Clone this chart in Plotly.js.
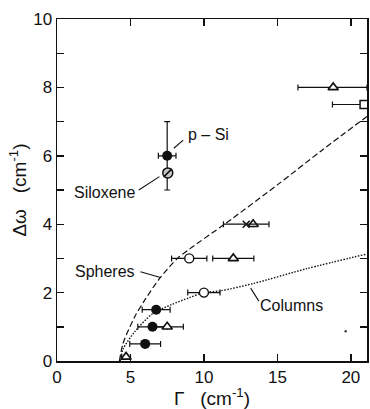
<!DOCTYPE html>
<html>
<head>
<meta charset="utf-8">
<script src="https://cdn.plot.ly/plotly-3.0.1.min.js"></script>
<style>
  html, body { margin: 0; padding: 0; background: #fff; }
  #chart { width: 370px; height: 409px; }
</style>
</head>
<body>
<div id="chart"></div>
<script>
// Raman shift Δω versus linewidth Γ for porous Si samples, with confinement models.

// Filled circles (p-Si and related samples)
const filledX = [7.5, 6.75, 6.5, 6.0];
const filledY = [6.0, 1.5, 1.0, 0.5];
const filledXErr = [0.6, 0.95, 1.0, 1.05];
const filledYErr = [1.0, 0, 0, 0];

// Siloxene (hatched circle)
const siloxeneX = [7.54];
const siloxeneY = [5.5];

// Open triangles
const triX = [18.8, 13.35, 12.0, 7.5, 4.7];
const triY = [8.0, 4.0, 3.0, 1.0, 0.12];
const triXErrPlus = [2.3, 0, 1.4, 1.1, 0.3];
const triXErrMinus = [2.4, 0, 1.4, 1.1, 0.3];

// Open circles
const ocX = [9.0, 10.0];
const ocY = [3.0, 2.0];
const ocXErr = [1.2, 1.1];

// Cross
const crossX = [12.88];
const crossY = [4.0];
const crossXErr = [1.55];

// Open square
const sqX = [20.9];
const sqY = [7.5];
const sqXErrMinus = [2.15];

// Small dot
const dotX = [19.65];
const dotY = [0.87];

// Model curves
const spheresX = [4.25, 4.5, 5.3, 6.0, 7.0, 8.2, 9.1, 11.5, 15.0, 18.0, 21.1];
const spheresY = [0.0, 0.52, 1.3, 1.8, 2.42, 3.0, 3.3, 4.03, 5.15, 6.15, 7.15];
const columnsX = [4.3, 4.5, 5.3, 6.5, 7.8, 9.0, 10.0, 11.1, 13.4, 17.0, 21.1];
const columnsY = [0.0, 0.35, 0.86, 1.38, 1.65, 1.85, 2.0, 2.05, 2.27, 2.7, 3.13];

// Axis ticks
const xTickVals = [0, 5, 10, 15, 20];
const yTickVals = [0, 2, 4, 6, 8, 10];
const yRightTickVals = [0, 1, 2, 3, 4, 5, 6, 7, 8, 9, 10];

// Labels and their leader lines
const labelText = ['p – Si', 'Siloxene', 'Spheres', 'Columns'];
const labelX = [8.75, 5.45, 5.45, 13.67];
const labelY = [6.61, 4.93, 2.61, 1.62];
const labelAnchor = ['left', 'right', 'right', 'left'];
const leaderX0 = [7.95, 5.57, 5.68, 13.18];
const leaderY0 = [6.22, 5.0, 2.61, 2.13];
const leaderX1 = [8.59, 6.97, 7.04, 13.74];
const leaderY1 = [6.46, 5.39, 2.44, 1.75];

const ink = '#111';
const font = "'Liberation Sans', Arial, Helvetica, sans-serif";

function hbar(arr, arrMinus) {
  const e = { type: 'data', array: arr, color: ink, thickness: 1.2, width: 3 };
  if (arrMinus) { e.symmetric = false; e.arrayminus = arrMinus; }
  return e;
}

const traces = [
  {
    x: spheresX, y: spheresY, mode: 'lines', type: 'scatter',
    line: { color: ink, width: 1.2, dash: '6px,3px', shape: 'spline', smoothing: 0.8 },
    hoverinfo: 'skip'
  },
  {
    x: columnsX, y: columnsY, mode: 'lines', type: 'scatter',
    line: { color: ink, width: 1.4, dash: '1.5px,1.5px', shape: 'spline', smoothing: 0.8 },
    hoverinfo: 'skip'
  },
  {
    x: filledX, y: filledY, mode: 'markers', type: 'scatter', cliponaxis: false,
    marker: { symbol: 'circle', size: 10, color: ink },
    error_x: hbar(filledXErr),
    error_y: { type: 'data', array: filledYErr, color: ink, thickness: 1.2, width: 3 }
  },
  {
    x: siloxeneX, y: siloxeneY, mode: 'markers', type: 'scatter', cliponaxis: false,
    marker: { symbol: 'circle', size: 10, color: '#c8c8c8', line: { color: ink, width: 1.5 } }
  },
  {
    x: siloxeneX, y: siloxeneY, mode: 'markers', type: 'scatter', cliponaxis: false,
    marker: { symbol: 'line-ne', size: 8, line: { color: ink, width: 1.5 } }
  },
  {
    x: triX, y: triY, mode: 'markers', type: 'scatter', cliponaxis: false,
    marker: { symbol: 'triangle-up', size: 9, color: '#fff', line: { color: ink, width: 1.6 } },
    error_x: hbar(triXErrPlus, triXErrMinus)
  },
  {
    x: ocX, y: ocY, mode: 'markers', type: 'scatter', cliponaxis: false,
    marker: { symbol: 'circle', size: 9, color: '#fff', line: { color: ink, width: 1.4 } },
    error_x: hbar(ocXErr)
  },
  {
    x: crossX, y: crossY, mode: 'markers', type: 'scatter', cliponaxis: false,
    marker: { symbol: 'x-thin', size: 7, line: { color: ink, width: 1.5 } },
    error_x: hbar(crossXErr)
  },
  {
    x: sqX, y: sqY, mode: 'markers', type: 'scatter', cliponaxis: false,
    marker: { symbol: 'square', size: 8, color: '#fff', line: { color: ink, width: 1.5 } },
    error_x: hbar([0], sqXErrMinus)
  },
  {
    // drawn on the right-hand axis (same 0–10 range) so that axis gets its ticks
    x: dotX, y: dotY, yaxis: 'y2', mode: 'markers', type: 'scatter',
    marker: { symbol: 'circle', size: 2.5, color: '#444' }
  }
];

const annotations = labelText.map((t, i) => ({
  x: labelX[i], y: labelY[i], xref: 'x', yref: 'y',
  text: t, showarrow: false, xanchor: labelAnchor[i], yanchor: 'middle',
  font: { family: font, size: 16, color: ink }
}));

const shapes = labelText.map((t, i) => ({
  type: 'line', xref: 'x', yref: 'y',
  x0: leaderX0[i], y0: leaderY0[i], x1: leaderX1[i], y1: leaderY1[i],
  line: { color: ink, width: 1.1 }
}));

const axisCommon = {
  showline: true, linecolor: ink, linewidth: 1.5,
  ticks: 'inside', ticklen: 7, tickwidth: 1.4, tickcolor: ink,
  showgrid: false, zeroline: false,
  tickfont: { family: font, size: 17, color: ink }
};

const layout = {
  width: 370, height: 409,
  margin: { l: 57, r: 3, t: 19, b: 48 },
  paper_bgcolor: '#fff', plot_bgcolor: '#fff',
  showlegend: false,
  xaxis: Object.assign({}, axisCommon, {
    mirror: 'ticks',
    range: [0, 21.1], tickmode: 'array', tickvals: xTickVals,
    title: { text: 'Γ&nbsp;&nbsp;&nbsp;(cm<sup>-1</sup>)', font: { family: font, size: 19, color: ink }, standoff: 6 }
  }),
  yaxis: Object.assign({}, axisCommon, {
    mirror: true,
    range: [0, 10], tickmode: 'array', tickvals: yTickVals,
    minor: { dtick: 1, ticks: 'inside', ticklen: 7, tickwidth: 1.4, tickcolor: ink, showgrid: false },
    title: { text: 'Δω&nbsp;&nbsp;&nbsp;(cm<sup>-1</sup>)', font: { family: font, size: 19, color: ink }, standoff: 1 }
  }),
  yaxis2: {
    overlaying: 'y', side: 'right', range: [0, 10],
    tickmode: 'array', tickvals: yRightTickVals, showticklabels: false,
    ticks: 'inside', ticklen: 7, tickwidth: 1.4, tickcolor: ink,
    showline: true, linecolor: ink, linewidth: 1.5, showgrid: false, zeroline: false
  },
  annotations: annotations,
  shapes: shapes
};

Plotly.newPlot('chart', traces, layout, { staticPlot: true, displayModeBar: false });
</script>
</body>
</html>
